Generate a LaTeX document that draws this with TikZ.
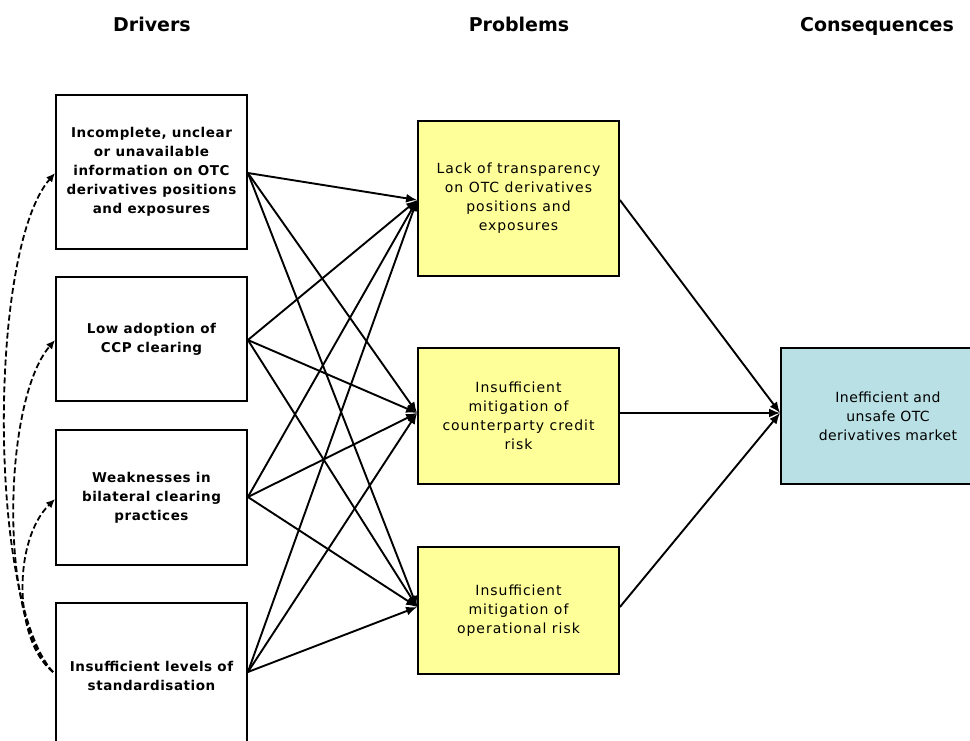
\documentclass[tikz,border=0pt]{standalone}
\usepackage{fontspec}
\setmainfont{DejaVu Sans}
\newfontfamily\drvfont[LetterSpace=4]{DejaVu Sans}
\newfontfamily\prbfont[LetterSpace=7]{DejaVu Sans}
\newfontfamily\consfont[LetterSpace=3]{DejaVu Sans}
\usetikzlibrary{arrows.meta}
\definecolor{probyellow}{RGB}{255,255,153}
\definecolor{consblue}{RGB}{185,224,228}
\begin{document}
\begin{tikzpicture}[x=1pt,y=-1pt,
  drvbox/.style={draw=black,line width=1.8pt,fill=white,minimum width=191pt,align=center,inner sep=0pt,
     font=\drvfont\bfseries\fontsize{13.5}{19}\selectfont},
  prbbox/.style={draw=black,line width=1.8pt,fill=probyellow,minimum width=201pt,align=center,inner sep=0pt,
     font=\prbfont\fontsize{14}{19}\selectfont},
  consbox/.style={draw=black,line width=1.8pt,fill=consblue,minimum width=214pt,align=center,inner sep=0pt,
     font=\consfont\fontsize{14}{19}\selectfont},
  header/.style={font=\bfseries\fontsize{19}{22}\selectfont,inner sep=0pt,anchor=base},
  link/.style={line width=1.9pt,-{Latex[length=11pt,width=9pt]}},
  dlink/.style={line width=1.8pt,dash pattern=on 6pt off 3pt,-{Latex[length=9pt,width=8pt]}}
]
\useasboundingbox (0,0) rectangle (970,740);
\clip (0,0) rectangle (970,740);
\fill[white] (0,0) rectangle (970,740);

\node[header] (hd) at (152,31) {Drivers};
\node[header] (hp) at (519,31) {Problems};
\node[header] (hc) at (877,31) {Consequences};

\node[drvbox,minimum height=154pt] (d1) at (151.5,172) {Incomplete, unclear\\or unavailable\\information on OTC\\derivatives positions\\and exposures};
\node[drvbox,minimum height=124pt] (d2) at (151.5,339) {Low adoption of\\CCP clearing};
\node[drvbox,minimum height=135pt] (d3) at (151.5,497.5) {Weaknesses in\\bilateral clearing\\practices};
\node[drvbox,minimum height=150pt] (d4) at (151.5,678) {};
\node[font=\drvfont\bfseries\fontsize{13.5}{19}\selectfont,align=center] (d4t) at (151.5,676) {Insufficient levels of\\standardisation};

\node[prbbox,minimum height=155pt] (pa) at (518.5,198.5) {Lack of transparency\\on OTC derivatives\\positions and\\exposures};
\node[prbbox,minimum height=136pt] (pb) at (518.5,416) {Insufficient\\mitigation of\\counterparty credit\\risk};
\node[prbbox,minimum height=127pt] (pc) at (518.5,610.5) {Insufficient\\mitigation of\\operational risk};

\node[consbox,minimum height=136pt] (cq) at (888,416) {Inefficient and\\unsafe OTC\\derivatives market};

\coordinate (o1) at (d1.east |- 0,173);
\coordinate (o2) at (d2.east |- 0,340);
\coordinate (o3) at (d3.east |- 0,497);
\coordinate (o4) at (d4.east |- 0,672);
\coordinate (ia) at (pa.west |- 0,200);
\coordinate (ib) at (pb.west |- 0,413);
\coordinate (ic) at (pc.west |- 0,607);
\coordinate (ra) at (pa.east |- 0,200);
\coordinate (rb) at (pb.east |- 0,413);
\coordinate (rc) at (pc.east |- 0,607);
\coordinate (cin) at (cq.west |- 0,413);

\foreach \o in {o1,o2,o3,o4}{
  \foreach \i in {ia,ib,ic}{
    \draw[link] (\o) -- (\i);
  }
}
\draw[link] (ra) -- (cin);
\draw[link] (rb) -- (cin);
\draw[link] (rc) -- (cin);

\coordinate (s4) at (53,672);
\coordinate (l1) at (d1.west |- 0,173);
\coordinate (l2) at (d2.west |- 0,340);
\coordinate (l3) at (d3.west |- 0,499);
\draw[dlink] (s4) .. controls (-12,600) and (-12,250) .. (l1);
\draw[dlink] (s4) .. controls (-2,620) and (3,400) .. (l2);
\draw[dlink] (s4) .. controls (13,640) and (13,540) .. (l3);
\end{tikzpicture}
\end{document}
